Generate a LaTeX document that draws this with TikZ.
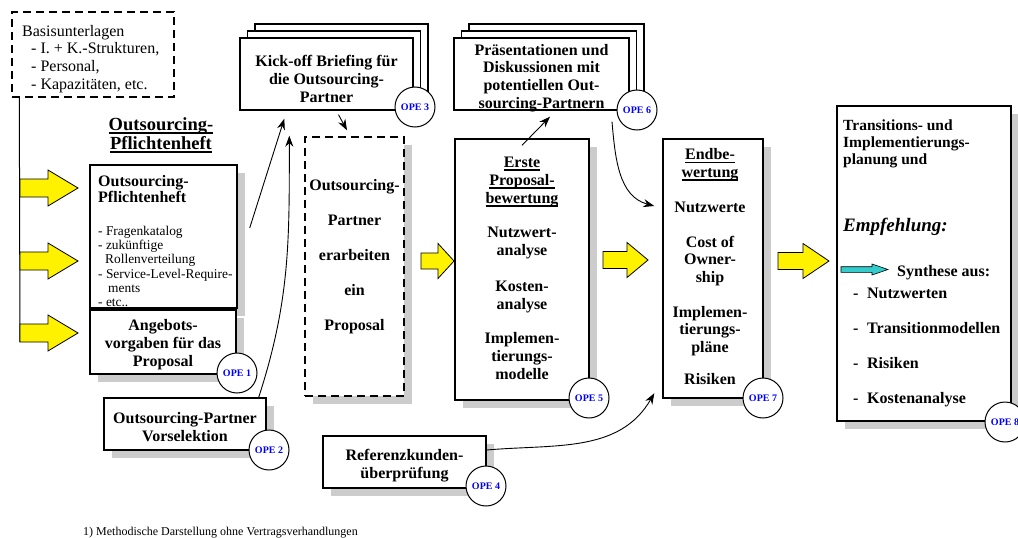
\documentclass[tikz,border=0pt]{standalone}
\usepackage{fontspec}
\setmainfont{Liberation Serif}
\usetikzlibrary{positioning}
\usetikzlibrary{arrows.meta}
\usetikzlibrary{shadows}

\definecolor{opeblue}{RGB}{0,0,255}
\definecolor{turq}{RGB}{51,204,204}
\newcommand{\fsz}[2]{\fontsize{#1}{#2}\selectfont}
\newcommand{\ulin}[1]{\setbox0\hbox{#1}\leavevmode\rlap{\rule[-3.5pt]{\wd0}{1.6pt}}\box0}

\begin{document}
\begin{tikzpicture}[x=1pt,y=-1pt,
    box/.style={draw,fill=white,line width=1.4pt,inner sep=0pt},
    dashbox/.style={box,dash pattern=on 8pt off 5pt},
    shadowbox/.style={box,drop shadow={shadow xshift=8pt,shadow yshift=-8pt,fill=black!20,opacity=1}},
    stackbox/.style={box,copy shadow={shadow xshift=15pt,shadow yshift=14pt},copy shadow={shadow xshift=7.5pt,shadow yshift=7pt}},
    ope/.style={circle,draw,fill=white,line width=1pt,minimum size=40pt,inner sep=0pt,text=opeblue,font=\bfseries\fsz{10}{12}},
    btext/.style={align=center,font=\bfseries\fsz{16}{18}},
    yarrow/.style={fill=yellow,draw=black,line width=0.8pt},
    conn/.style={line width=0.9pt,-{Stealth[length=11pt,width=8pt]}}]
    \useasboundingbox (0,0) rectangle (1018,538);

    % Basisunterlagen and the line down to the three arrows
    \node[dashbox,minimum width=162pt,minimum height=85pt] (basis) at (93,54.5) {};
    \node[anchor=north west,align=left,inner sep=0pt,font=\fsz{16}{17.6}] (basistxt) at (22,25)
        {Basisunterlagen\\\hspace*{9pt}- I. + K.-Strukturen,\\\hspace*{9pt}- Personal,\\\hspace*{9pt}- Kapazitäten, etc.};
    \coordinate (lineend) at (20,342);
    \draw[line width=1pt] ([xshift=8pt]basis.south west) -- (lineend);

    % yellow block arrows
    \foreach \xa/\xb/\xc/\yc/\sh/\hh in {20/48/78/188/9/18, 20/48/78/261/9/18, 20/48/78/333/9/18,
        421/438/454/261/8/17.5, 603/627/648/260/8.5/17.5, 778/803/829/261/8.5/17.5}
        \draw[yarrow] (\xa,\yc-\sh) -- (\xb,\yc-\sh) -- (\xb,\yc-\hh) -- (\xc,\yc)
            -- (\xb,\yc+\hh) -- (\xb,\yc+\sh) -- (\xa,\yc+\sh) -- cycle;

    % Pflichtenheft
    \node[align=center,font=\bfseries\fsz{18.5}{19}] (title) at (161,135) {\ulin{Outsourcing-}\\\ulin{Pflichtenheft}};
    \node[shadowbox,minimum width=147pt,minimum height=143pt] (pflicht) at (163.5,236.5) {};
    \node[anchor=north west,align=left,inner sep=0pt,font=\bfseries\fsz{16}{16.5}] (pflichthead) at (98,175)
        {Outsourcing-\\Pflichtenheft};
    \node[anchor=north west,align=left,inner sep=0pt,font=\fsz{13.4}{14.2}] (pflichtitems) at (98,226)
        {- Fragenkatalog\\- zukünftige\\\hspace*{7pt}Rollenverteilung\\- Service-Level-Require-\\\hspace*{10pt}ments\\- etc..};
    \node[shadowbox,minimum width=146pt,minimum height=64pt] (angebot) at (163,342) {};
    \node[btext] (angebottxt) at ([yshift=-3pt]angebot.center) {Angebots-\\vorgaben für das\\Proposal};
    \node[shadowbox,minimum width=162pt,minimum height=52pt] (vorsel) at (185,424) {};
    \node[btext] (vorseltxt) at ([yshift=-3pt]vorsel.center) {Outsourcing-Partner\\Vorselektion};

    % Kick-off and partner work
    \node[stackbox,minimum width=173pt,minimum height=72pt] (kick) at (326.5,74) {};
    \node[btext] (kicktxt) at ([yshift=-4.5pt]kick.center) {Kick-off Briefing für\\die Outsourcing-\\Partner};
    \node[dashbox,drop shadow={shadow xshift=8pt,shadow yshift=-8pt,fill=black!20,opacity=1},
        minimum width=99pt,minimum height=259pt] (partner) at (354.5,266.5) {};
    \node[align=center,font=\bfseries\fsz{16}{35}] (partnertxt) at (354.5,257)
        {Outsourcing-\\Partner\\erarbeiten\\ein\\Proposal};

    % evaluation
    \node[shadowbox,minimum width=134pt,minimum height=261pt] (erste) at (522,269.5) {};
    \node[anchor=north,btext] (erstetxt) at (522,153.5)
        {\ulin{Erste}\\\ulin{Proposal-}\\\ulin{bewertung}\\[16pt]Nutzwert-\\analyse\\[18pt]Kosten-\\analyse\\[16pt]Implemen-\\tierungs-\\modelle};
    \node[stackbox,minimum width=175pt,minimum height=72pt] (pres) at (541.5,74) {};
    \node[align=center,font=\bfseries\fsz{16}{17.7}] (prestxt) at ([yshift=-4pt]pres.center)
        {Präsentationen und\\Diskussionen mit\\potentiellen Out-\\sourcing-Partnern};
    \node[shadowbox,minimum width=163pt,minimum height=52pt] (refer) at (404.5,462) {};
    \node[btext] (refertxt) at ([yshift=-3.5pt]refer.center) {Referenzkunden-\\überprüfung};
    \node[shadowbox,minimum width=100pt,minimum height=259pt] (endb) at (713,268.5) {};
    \node[anchor=north,align=center,font=\bfseries\fsz{16}{17.5}] (endbtxt) at (710,145)
        {\ulin{Endbe-}\\\ulin{wertung}\\[17.5pt]Nutzwerte\\[17.5pt]Cost of\\Owner-\\ship\\[17.5pt]Implemen-\\tierungs-\\pläne\\[14.5pt]Risiken};

    % recommendation
    \node[shadowbox,minimum width=174pt,minimum height=315pt] (trans) at (924,263.5) {};
    \node[anchor=north west,align=left,inner sep=0pt,font=\bfseries\fsz{15.5}{17}] (transhead) at (843,120)
        {Transitions- und\\Implementierungs-\\planung und};
    \node[anchor=base west,inner sep=0pt,font=\bfseries\itshape\fsz{19}{20}] (empf) at (843,231) {Empfehlung:};
    \draw[fill=turq,line width=0.6pt] (841,266.7) -- (872,266.7) -- (872,264) -- (888,269.5)
        -- (872,275) -- (872,272.3) -- (841,272.3) -- cycle;
    \node[anchor=base west,inner sep=0pt,font=\bfseries\fsz{16}{18}] (synth) at (897,276) {Synthese aus:};
    \foreach \name/\txt/\yy in {li1/Nutzwerten/298.5, li2/Transitionmodellen/333.5, li3/Risiken/368.5, li4/Kostenanalyse/403.5}
        \node[anchor=base west,inner sep=0pt,font=\bfseries\fsz{16}{18}] (\name) at (853,\yy) {\makebox[14pt][l]{-}\txt};

    % connectors
    \draw[conn] ([shift={(12,-8.5)}]pflicht.east) -- ([shift={(45,8)}]kick.south west);
    \draw[conn] ([xshift=-8pt]vorsel.north east) to[out=72,in=-90] ([shift={(50,25)}]kick.south west);
    \draw[conn] ([shift={(12,4)}]kick.south) -- ([shift={(-7.5,-6)}]partner.north);
    \draw[conn] ([yshift=-7pt]erste.north) -- ([shift={(8.5,6)}]pres.south);
    \draw[conn] ([shift={(70.5,11)}]pres.south) to[out=-85,in=165] ([shift={(-8,-62.5)}]endb.west);
    \draw[conn] ([yshift=12pt]refer.east) to[out=5,in=-120] ([shift={(-8,-5.5)}]endb.south west);

    % OPE marks
    \node[ope] (ope1) at (237,373) {OPE 1};
    \node[ope] (ope2) at (269,450) {OPE 2};
    \node[ope] (ope3) at (415,107) {OPE 3};
    \node[ope] (ope4) at (486,486) {OPE 4};
    \node[ope] (ope5) at (589,398) {OPE 5};
    \node[ope] (ope6) at (637,110) {OPE 6};
    \node[ope] (ope7) at (763,398) {OPE 7};
    \node[ope] (ope8) at (1005,422) {OPE 8};

    \node[anchor=base west,inner sep=0pt,font=\fsz{12}{14}] (foot) at (83,535)
        {1) Methodische Darstellung ohne Vertragsverhandlungen};
\end{tikzpicture}
\end{document}
